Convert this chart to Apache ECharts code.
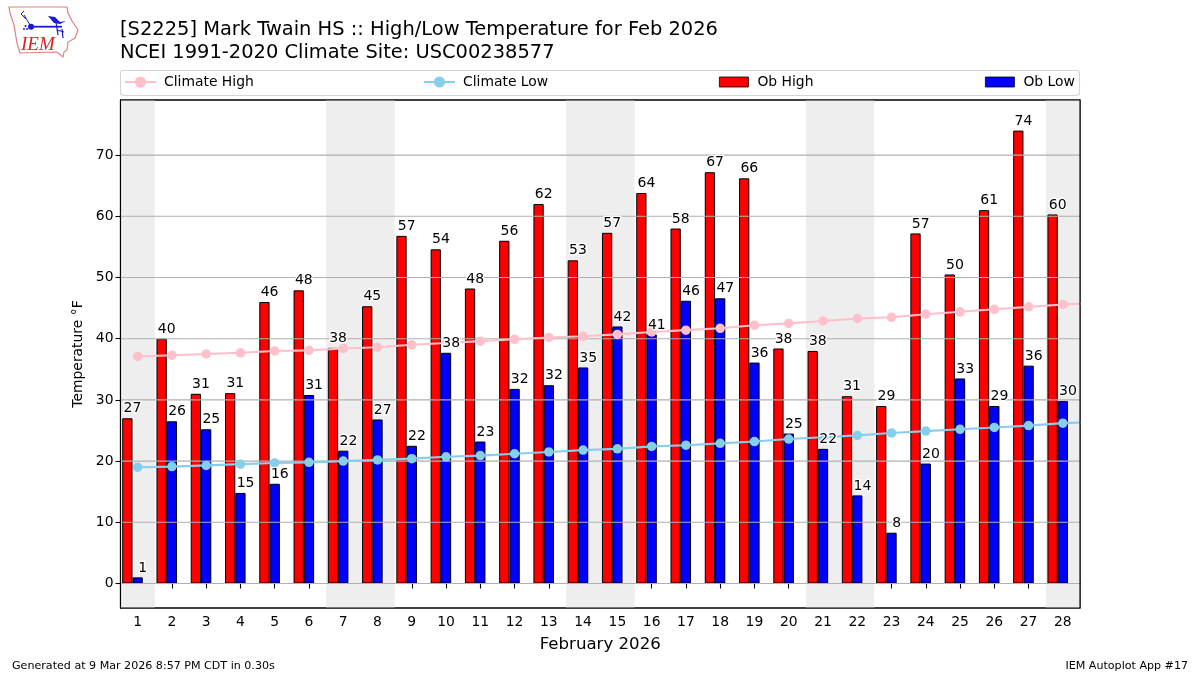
<!DOCTYPE html>
<html>
<head>
<meta charset="utf-8">
<style>html,body{margin:0;padding:0;background:#fff}#c{width:1200px;height:675px}</style>
<script src="https://cdn.jsdelivr.net/npm/echarts@6/dist/echarts.min.js"></script>
</head>
<body>
<div id="c"></div>
<script>
const days = [1,2,3,4,5,6,7,8,9,10,11,12,13,14,15,16,17,18,19,20,21,22,23,24,25,26,27,28];
const climateDays = days.concat([29]);
const obHigh = [27,40,31,31.1,46,47.9,38.5,45.3,56.8,54.6,48.2,56,62,52.8,57.3,63.8,58,67.2,66.2,38.4,38,30.6,29,57.2,50.5,61,74,60.3];
const obLow = [1,26.5,25.2,14.8,16.3,30.8,21.7,26.8,22.5,37.7,23.2,31.8,32.4,35.3,42,40.7,46.2,46.6,36.1,24.5,22,14.4,8.3,19.6,33.5,29,35.6,29.8];
const highLabels = [27,40,31,31,46,48,38,45,57,54,48,56,62,53,57,64,58,67,66,38,38,31,29,57,50,61,74,60];
const lowLabels = [1,26,25,15,16,31,22,27,22,38,23,32,32,35,42,41,46,47,36,25,22,14,8,20,33,29,36,30];
const climateHigh = [37.1,37.3,37.5,37.7,38,38.1,38.4,38.6,39,39.3,39.6,39.9,40.2,40.4,40.7,41.1,41.4,41.7,42.2,42.5,42.9,43.3,43.5,44,44.4,44.8,45.2,45.6,45.8];
const climateLow = [19,19.1,19.3,19.5,19.7,19.8,20,20.2,20.4,20.7,20.9,21.2,21.5,21.8,22,22.4,22.6,22.9,23.2,23.6,23.9,24.2,24.6,24.9,25.2,25.5,25.8,26.2,26.4];
const yTicks = [0,10,20,30,40,50,60,70];
const weekendSpans = [[0.5,1.5],[6.5,8.5],[13.5,15.5],[20.5,22.5],[27.5,28.5]];

const FONT = 'DejaVu Sans';
const chart = echarts.init(document.getElementById('c'), null, {renderer:'canvas'});

function labelSeries(name, vals, labels, offset){
  return {
    name, type:'scatter', xAxisIndex:1, yAxisIndex:0, z:10, silent:true,
    symbol:'circle', symbolSize:1, itemStyle:{color:'transparent',opacity:1},
    data: vals.map((v,i)=>[days[i]+offset, v, labels[i]]),
    encode:{x:0,y:1},
    label:{show:true, position:'top', distance:2, fontFamily:FONT, fontSize:14, color:'#000',
      textBorderColor:'#fff', textBorderWidth:2.5,
      formatter:p=>String(p.value[2])}
  };
}
function legendAt(name, left, w, isRect){
  const o = {show:true, data:[name], left, top:75, itemWidth:w, itemHeight:isRect?10:14, itemGap:9,
    padding:0, selectedMode:false,
    textStyle:{fontFamily:FONT,fontSize:13.9,color:'#000',padding:[0,0,0,isRect?4:3]}};
  if(isRect){ o.icon='rect'; o.itemStyle={borderWidth:0.8,borderColor:'#000'}; }
  return o;
}
// horizontal gridlines drawn above the bars, one broken line through the tick values
const gridOverlay = [];
yTicks.forEach(t=>{ gridOverlay.push([0.5,t],[28.5,t],[null,null]); });

chart.setOption({
  animation:false,
  backgroundColor:'#fff',
  textStyle:{fontFamily:FONT},
  title:{text:'[S2225] Mark Twain HS :: High/Low Temperature for Feb 2026\nNCEI 1991-2020 Climate Site: USC00238577',
    left:120, top:18, padding:0,
    textStyle:{fontFamily:FONT,fontSize:19.46,fontWeight:'normal',color:'#000',lineHeight:23}},
  legend:[
    legendAt('Climate High',124,31,false),
    legendAt('Climate Low',423,31,false),
    legendAt('Ob High',719,29,true),
    legendAt('Ob Low',985,29,true)
  ],
  grid:{left:120.5,right:120,top:100,height:508,show:true,backgroundColor:'transparent',borderColor:'#000',borderWidth:1.1},
  xAxis:[
    {type:'category',data:days,boundaryGap:true,name:'February 2026',nameLocation:'middle',nameGap:28,
      nameTextStyle:{fontFamily:FONT,fontSize:16.6,color:'#000'},
      axisLine:{show:true,lineStyle:{color:'#000',width:1.1}},
      axisTick:{show:true,alignWithLabel:true,length:5,lineStyle:{color:'#000',width:1.1}},
      axisLabel:{show:true,interval:0,fontFamily:FONT,fontSize:13.9,color:'#000',margin:7},
      splitLine:{show:false}},
    {type:'value',min:0.5,max:28.5,show:false,splitLine:{show:false}}
  ],
  yAxis:[{type:'value',min:-4,max:79,name:'Temperature °F',nameLocation:'middle',nameGap:33,
    nameTextStyle:{fontFamily:FONT,fontSize:13.9,color:'#000'},
    axisLine:{show:true,onZero:false,lineStyle:{color:'#000',width:1.1}},
    axisTick:{show:true,length:5,customValues:yTicks,lineStyle:{color:'#000',width:1.1}},
    axisLabel:{show:true,customValues:yTicks,fontFamily:FONT,fontSize:13.9,color:'#000',margin:7},
    splitLine:{show:false}}],
  series:[
    {name:'Ob High',type:'bar',data:obHigh,barWidth:10.28,barGap:0,z:2,silent:true,
      itemStyle:{color:'#ff0000',borderColor:'#000',borderWidth:1}},
    {name:'Ob Low',type:'bar',data:obLow,barWidth:10.28,barGap:0,z:2,silent:true,
      itemStyle:{color:'#0000ff',borderColor:'#000',borderWidth:1}},
    {name:'spacer',type:'bar',data:[],barWidth:10.28,barGap:0,z:2,silent:true},
    {name:'gridOverlay',type:'line',xAxisIndex:1,yAxisIndex:0,z:3,silent:true,
      data:gridOverlay,symbol:'none',connectNulls:false,
      lineStyle:{color:'#b0b0b0',width:1.1}},
    {name:'Climate High',type:'line',xAxisIndex:1,yAxisIndex:0,z:5,silent:true,
      data:climateDays.map((d,i)=>[d,climateHigh[i]]),
      symbol:'circle',symbolSize:9.5,showSymbol:true,clip:true,
      lineStyle:{color:'#ffc0cb',width:2.1},itemStyle:{color:'#ffc0cb'},
      markArea:{silent:true,z:1,itemStyle:{color:'#eeeeee',opacity:1},
        data:weekendSpans.map(s=>[{xAxis:s[0],yAxis:-4},{xAxis:s[1],yAxis:79}])}},
    {name:'Climate Low',type:'line',xAxisIndex:1,yAxisIndex:0,z:5,silent:true,
      data:climateDays.map((d,i)=>[d,climateLow[i]]),
      symbol:'circle',symbolSize:9.5,showSymbol:true,clip:true,
      lineStyle:{color:'#87ceeb',width:2.1},itemStyle:{color:'#87ceeb'}},
    labelSeries('highLabels',obHigh,highLabels,-0.15),
    labelSeries('lowLabels',obLow,lowLabels,0.15)
  ],
  graphic:[
    {type:'rect',shape:{x:120.5,y:70.5,width:959,height:25,r:3},z:-1,silent:true,
      style:{fill:'#fff',stroke:'#d5d5d5',lineWidth:1.1}},
    {type:'rect',shape:{x:1081,y:100,width:5,height:508},z:30,silent:true,style:{fill:'#fff'}},
    {type:'rect',shape:{x:120.5,y:100,width:959.5,height:508},z:31,silent:true,
      style:{fill:'none',stroke:'#000',lineWidth:1.1}},
    {type:'text',left:12,top:661,style:{text:'Generated at 9 Mar 2026 8:57 PM CDT in 0.30s',fontFamily:FONT,fontSize:11.1,fill:'#000'}},
    {type:'text',right:12,top:661,style:{text:'IEM Autoplot App #17',fontFamily:FONT,fontSize:11.1,fill:'#000'}},
    {type:'polygon',z:20,shape:{points:[[9,7],[67,7],[68,13],[72,21],[78,30],[75,38],[68,42],[67,50],[64,52],[63,57],[57,52],[20,53],[17,43],[14,25],[10,13]]},
      style:{fill:'none',stroke:'#e08080',lineWidth:1.2}},
    {type:'text',z:20,left:21,top:35,style:{text:'IEM',fontFamily:'Liberation Serif',fontSize:19,fontStyle:'italic',fill:'#d22'}},
    {type:'line',z:20,shape:{x1:31,y1:26.7,x2:62,y2:26.7},style:{stroke:'#1a1ad0',lineWidth:1.8}},
    {type:'circle',z:20,shape:{cx:31,cy:26.7,r:3},style:{fill:'#1a1ad0'}},
    {type:'polygon',z:20,shape:{points:[[48,16],[55,17],[60,22],[66,21],[60,24],[54,23]]},style:{fill:'#1a1ad0'}},
    {type:'polyline',z:20,shape:{points:[[24,11],[21,14],[26,19]]},style:{fill:'none',stroke:'#1a1ad0',lineWidth:1}},
    {type:'line',z:20,shape:{x1:24,y1:15,x2:30,y2:25},style:{stroke:'#1a1ad0',lineWidth:1}},
    {type:'line',z:20,shape:{x1:56,y1:22,x2:58,y2:35},style:{stroke:'#1a1ad0',lineWidth:1.2}},
    {type:'line',z:20,shape:{x1:57,y1:30,x2:64,y2:32},style:{stroke:'#1a1ad0',lineWidth:1.2}},
    {type:'line',z:20,shape:{x1:62,y1:29,x2:63,y2:38},style:{stroke:'#1a1ad0',lineWidth:1.2}},
    {type:'circle',z:20,shape:{cx:24,cy:29,r:1},style:{fill:'#1a1ad0'}},
    {type:'circle',z:20,shape:{cx:27,cy:29,r:1},style:{fill:'#1a1ad0'}},
    {type:'circle',z:20,shape:{cx:25.5,cy:26,r:1},style:{fill:'#1a1ad0'}}
  ]
});
</script>
</body>
</html>
